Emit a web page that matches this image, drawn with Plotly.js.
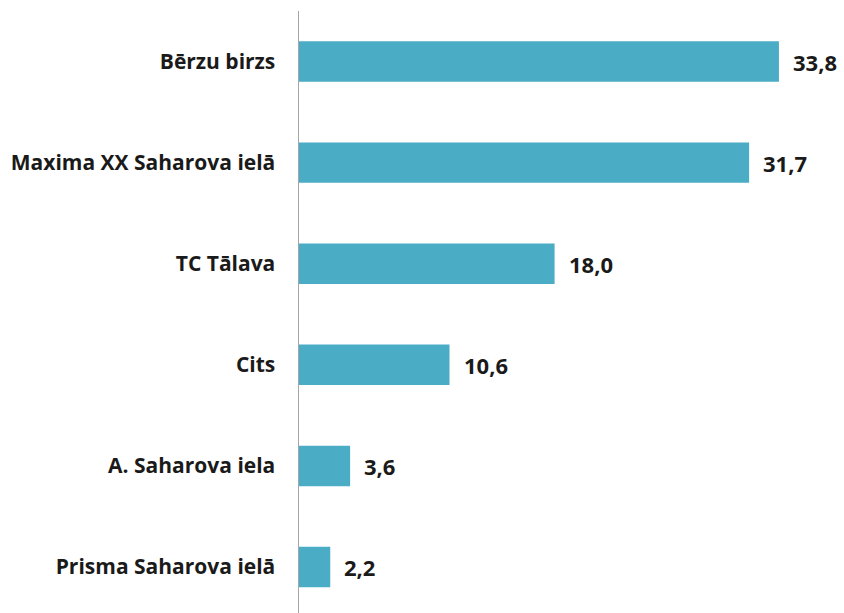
<!DOCTYPE html>
<html>
<head>
<meta charset="utf-8">
<script src="https://cdn.plot.ly/plotly-3.0.1.min.js"></script>
<style>html,body{margin:0;padding:0;background:#fff;}#chart{width:844px;height:613px;}</style>
</head>
<body>
<div id="chart"></div>
<script>
var categories = ["Bērzu birzs", "Maxima XX Saharova ielā", "TC Tālava", "Cits", "A. Saharova iela", "Prisma Saharova ielā"];
var values = [33.8, 31.7, 18.0, 10.6, 3.6, 2.2];
var labels = values.map(function(v){ return v.toFixed(1).replace('.', ','); });

var catsRev = categories.slice().reverse();
var valsRev = values.slice().reverse();
var labsRev = labels.slice().reverse();

var fontFam = '"Open Sans", "Liberation Sans", Arial, sans-serif';

var trace = {
  type: 'bar',
  orientation: 'h',
  y: catsRev,
  x: valsRev,
  width: 0.4,
  marker: {color: '#4BACC6', line: {width: 0}},
  hoverinfo: 'none'
};

var annotations = valsRev.map(function(v, i){
  return {x: v, y: catsRev[i], xref: 'x', yref: 'y', text: labsRev[i], showarrow: false,
    xanchor: 'left', yanchor: 'middle', xshift: 12,
    font: {family: fontFam, size: 22, color: '#1a1a1a', weight: 'bold'}};
});

var layout = {
  width: 844, height: 613,
  margin: {l: 299, r: 5, t: 11, b: 0},
  paper_bgcolor: '#fff', plot_bgcolor: '#fff',
  showlegend: false,
  xaxis: {range: [0, 38.03], visible: false, showgrid: false, zeroline: false},
  yaxis: {
    type: 'category',
    range: [-0.455, 5.5],
    showgrid: false, zeroline: false,
    showline: true, linecolor: '#a6a6a6', linewidth: 1.5,
    ticks: '', ticklabelstandoff: 18,
    tickfont: {family: fontFam, size: 21, color: '#1a1a1a', weight: 'bold'}
  },
  annotations: annotations,
  bargap: 0.6
};

Plotly.newPlot('chart', [trace], layout, {staticPlot: true, displayModeBar: false});
</script>
</body>
</html>
